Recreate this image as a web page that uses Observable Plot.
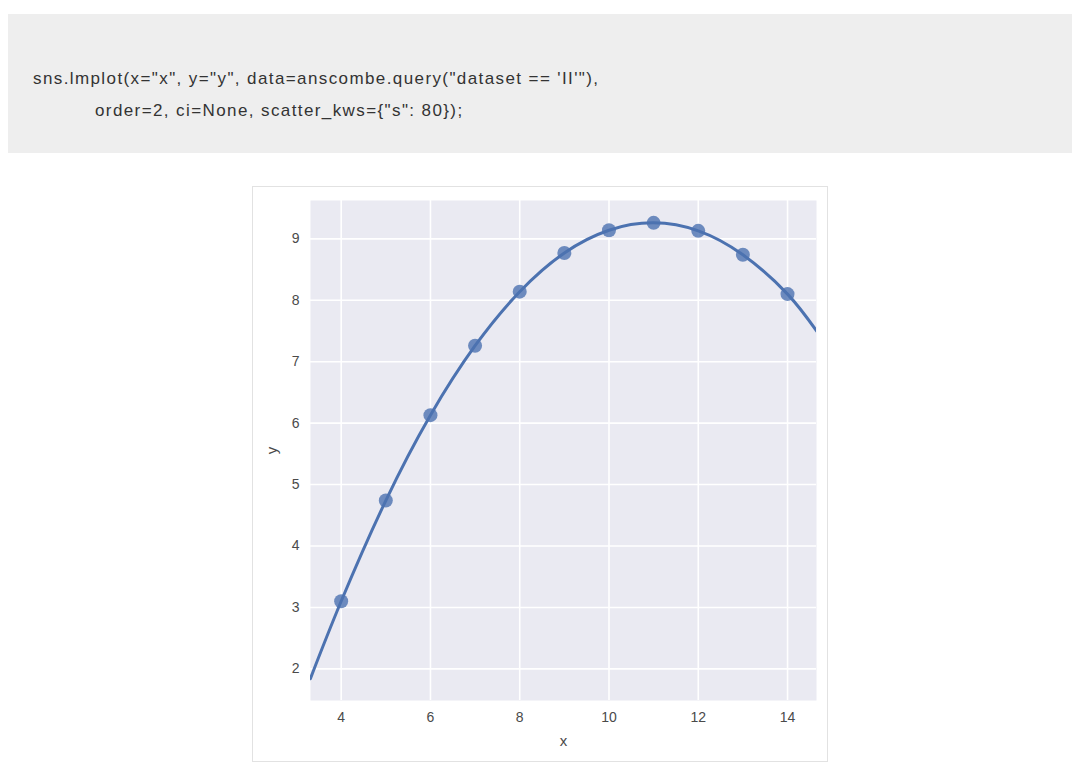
<!DOCTYPE html>
<html>
<head>
<meta charset="utf-8">
<script src="https://cdn.jsdelivr.net/npm/d3@7"></script>
<script src="https://cdn.jsdelivr.net/npm/@observablehq/plot@0.6"></script>
<style>
  html, body { margin: 0; padding: 0; background: #fff; width: 1080px; height: 772px; overflow: hidden; }
  #code {
    position: absolute; left: 8px; top: 14px; width: 1064px; height: 139px;
    background: #eeeeee;
    font-family: "Liberation Sans", Arial, Helvetica, sans-serif;
    font-size: 17px; color: #333; letter-spacing: 1.4px;
  }
  #code .l1 { position: absolute; left: 25px; top: 55px; white-space: pre; }
  #code .l2 { position: absolute; left: 87px; top: 87px; white-space: pre; }
  #chart {
    position: absolute; left: 252px; top: 186px; width: 574px; height: 574px;
    border: 1px solid #e2e2e2; background: #fff;
  }
  #chart svg { display: block; }
</style>
</head>
<body>
<div id="code"><span class="l1">sns.lmplot(x="x", y="y", data=anscombe.query("dataset == 'II'"),</span><span class="l2">order=2, ci=None, scatter_kws={"s": 80});</span></div>
<div id="chart"></div>
<script>
// Anscombe dataset II
const xs = [10, 8, 13, 9, 11, 14, 6, 4, 12, 7, 5];
const ys = [9.14, 8.14, 8.74, 8.77, 9.26, 8.10, 6.13, 3.10, 9.13, 7.26, 4.74];

// Order-2 regression curve
const curveX = [3.31, 4, 5, 6, 7, 8, 9, 10, 11, 12, 13, 14, 14.65];
const curveY = [1.84, 3.10, 4.74, 6.13, 7.26, 8.14, 8.77, 9.14, 9.26, 9.13, 8.74, 8.10, 7.50];

const xTicks = [4, 6, 8, 10, 12, 14];
const yTicks = [2, 3, 4, 5, 6, 7, 8, 9];

const points = xs.map((x, i) => ({x, y: ys[i]}));
const curve = curveX.map((x, i) => ({x, y: curveY[i]}));

const blue = "#4C72B0";
const textColor = "#4a4a4a";

const plot = Plot.plot({
  width: 574,
  height: 574,
  marginLeft: 57,
  marginTop: 13,
  marginRight: 11,
  marginBottom: 61,
  style: { fontFamily: "'Liberation Sans', Arial, sans-serif", fontSize: "14px", color: textColor, background: "#fff" },
  x: { domain: [3.313, 14.649] },
  y: { domain: [1.485, 9.624] },
  marks: [
    Plot.frame({ fill: "#EAEAF2", stroke: null }),
    Plot.gridX(xTicks, { stroke: "#fff", strokeOpacity: 1, strokeWidth: 1.6 }),
    Plot.gridY(yTicks, { stroke: "#fff", strokeOpacity: 1, strokeWidth: 1.6 }),
    Plot.dot(points, { x: "x", y: "y", r: 7, fill: blue, fillOpacity: 0.8, stroke: null }),
    Plot.line(curve, { x: "x", y: "y", stroke: blue, strokeWidth: 3, curve: "natural", clip: true }),
    Plot.axisX(xTicks, { tickSize: 0, tickPadding: 12, tickFormat: "d", fill: textColor, fontSize: 14, label: null }),
    Plot.axisY(yTicks, { tickSize: 0, tickPadding: 11, tickFormat: "d", fill: textColor, fontSize: 14, label: null }),
    Plot.axisX({ ticks: [], tickSize: 0, label: "x", labelAnchor: "center", labelArrow: "none", labelOffset: 45, fill: textColor, fontSize: 15 }),
    Plot.axisY({ ticks: [], tickSize: 0, label: "y", labelAnchor: "center", labelArrow: "none", labelOffset: 44, fill: textColor, fontSize: 15 })
  ]
});
document.getElementById("chart").appendChild(plot);
</script>
</body>
</html>
